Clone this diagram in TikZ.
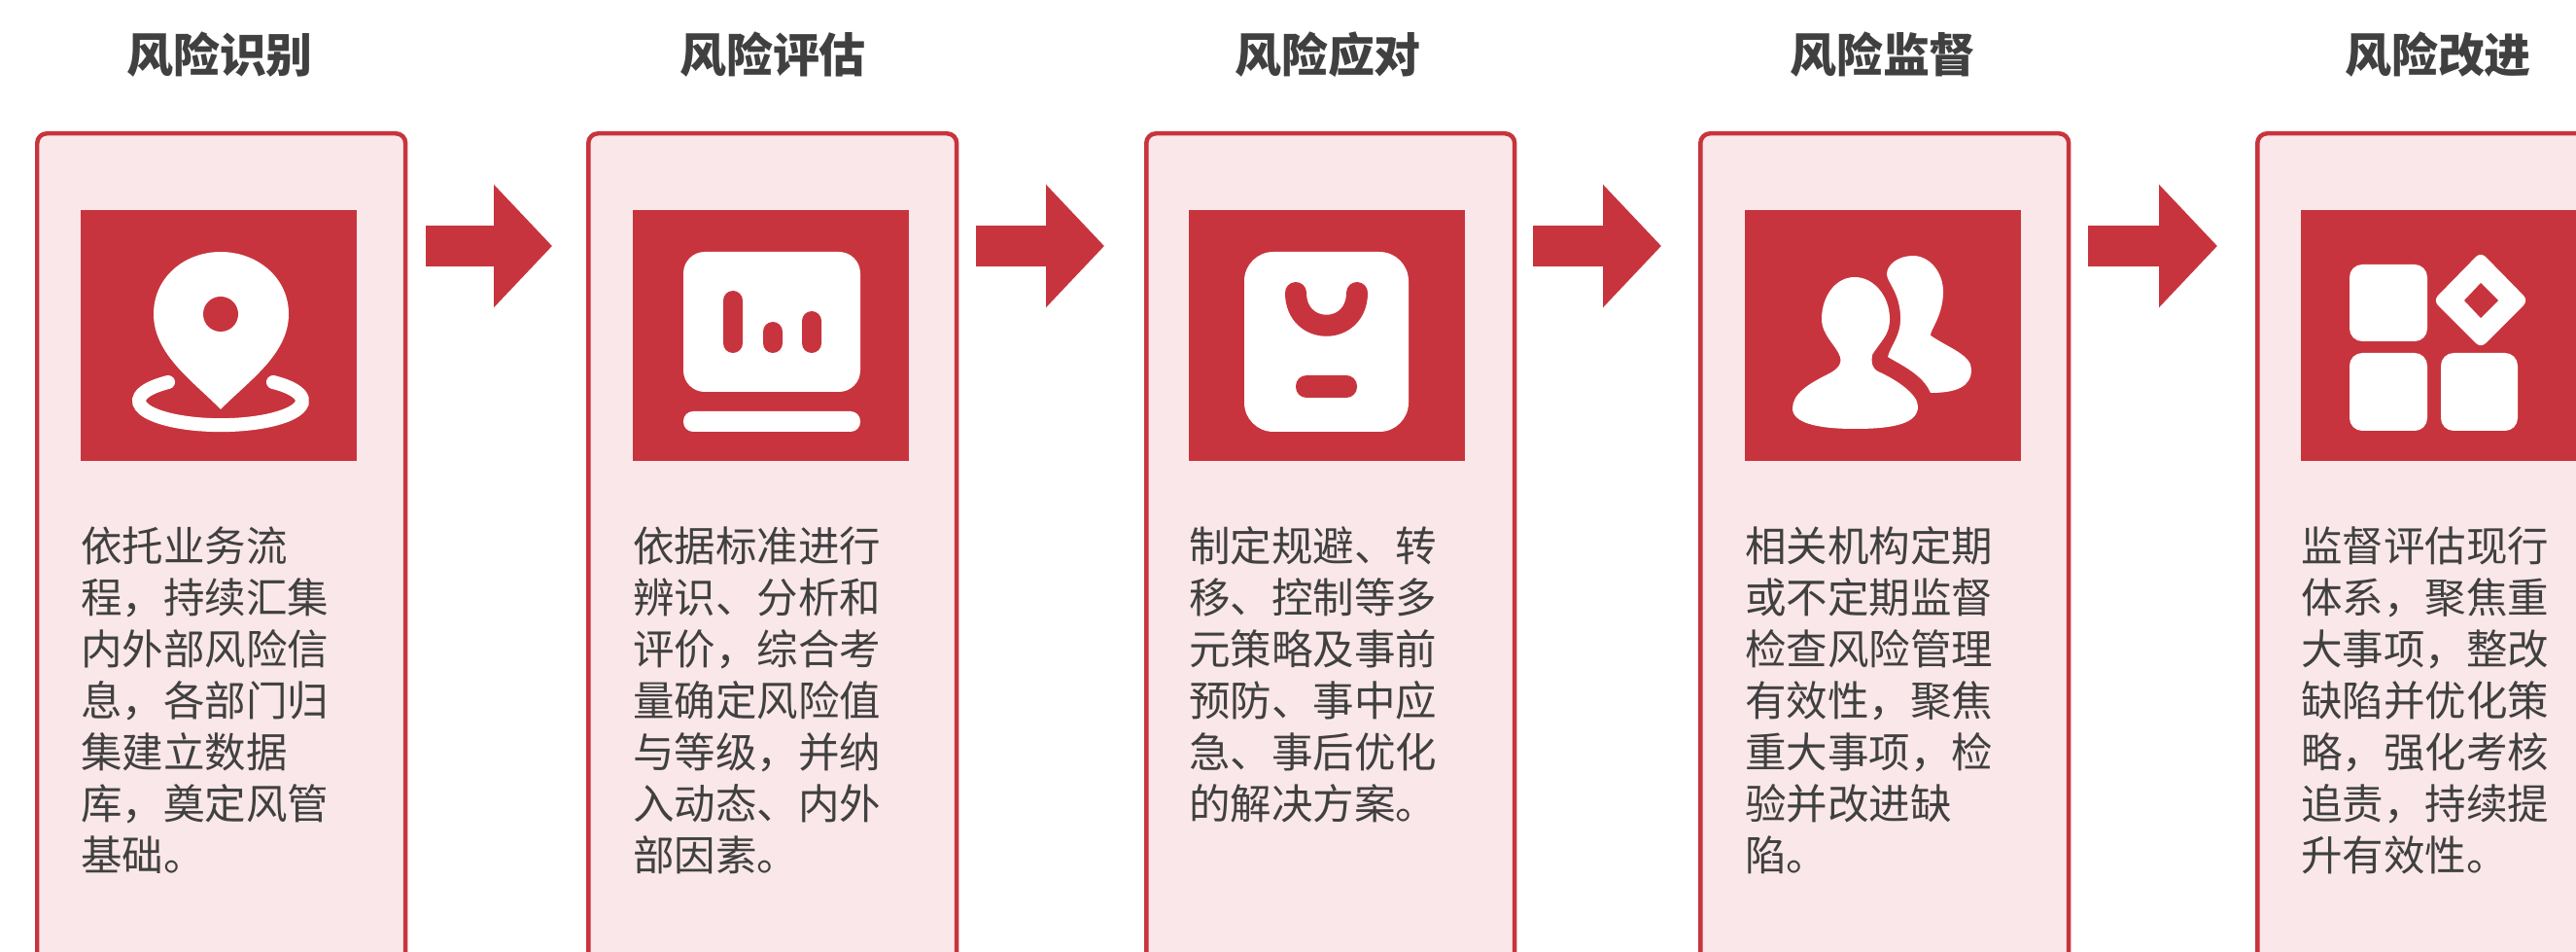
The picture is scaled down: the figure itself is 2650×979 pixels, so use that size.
\documentclass[tikz,border=0pt]{standalone}
\usepackage{fontspec}
\setmainfont{Noto Sans CJK SC}
\usetikzlibrary{arrows.meta}
\definecolor{riskred}{HTML}{C8343D}
\definecolor{cardpink}{HTML}{FAE7E9}
\definecolor{inktext}{HTML}{404040}
\tikzset{
  card/.style={rectangle,draw=riskred,fill=cardpink,line width=0.09cm,rounded corners=0.2cm,
    anchor=north west,minimum width=7.58cm,minimum height=18cm,inner sep=0},
  iconbox/.style={rectangle,fill=riskred,anchor=north west,minimum width=5.68cm,minimum height=5.16cm,inner sep=0},
  headline/.style={font=\fontsize{27.3pt}{30pt}\selectfont\bfseries,text=inktext,inner sep=0},
  bodytext/.style={font=\fontsize{24.2pt}{30.16pt}\selectfont,text=inktext,align=left,anchor=north west,inner sep=0},
  flowarrow/.style={riskred,line width=0.84cm,-{Triangle[length=1.2cm,width=2.46cm]}},
  iconwhite/.style={fill=white,draw=none},
  iconcut/.style={fill=riskred,draw=none},
}

\begin{document}
\begin{tikzpicture}[x=0.02cm,y=-0.02cm]
  \useasboundingbox (0,0) rectangle (2650,979);
  \clip (0,0) rectangle (2650,979);

  % titles
  \node[headline] (title1) at (226,56) {风险识别};
  \node[headline] (title2) at (795,56) {风险评估};
  \node[headline] (title3) at (1366,56) {风险应对};
  \node[headline] (title4) at (1937,56) {风险监督};
  \node[headline] (title5) at (2508,56) {风险改进};

  % cards
  \node[card] (card1) at (36,135) {};
  \node[card] (card2) at (603,135) {};
  \node[card] (card3) at (1177,135) {};
  \node[card] (card4) at (1747,135) {};
  \node[card] (card5) at (2320,135) {};

  % arrows
  \draw[flowarrow] ([shift={(19,118)}]card1.north east) -- ([shift={(-35,118)}]card2.north west);
  \draw[flowarrow] ([shift={(18,118)}]card2.north east) -- ([shift={(-41,118)}]card3.north west);
  \draw[flowarrow] ([shift={(17,118)}]card3.north east) -- ([shift={(-38,118)}]card4.north west);
  \draw[flowarrow] ([shift={(18,118)}]card4.north east) -- ([shift={(-39,118)}]card5.north west);

  % icon squares
  \node[iconbox] (icon1) at (83,216) {};
  \node[iconbox] (icon2) at (651,216) {};
  \node[iconbox] (icon3) at (1223,216) {};
  \node[iconbox] (icon4) at (1795,216) {};
  \node[iconbox] (icon5) at (2367,216) {};

  % pin
  \draw[white,line width=0.28cm,line cap=round] (281,393) arc[start angle=-50,end angle=230,x radius=84,y radius=25];
  \path[iconwhite] (227,421) .. controls (200,393) and (158,365) .. (158,323)
    .. controls (158,285) and (190,259) .. (227,259)
    .. controls (264,259) and (297,285) .. (297,323)
    .. controls (297,365) and (254,393) .. (227,421) -- cycle;
  \path[iconcut] (227,323) circle[radius=18];

  % screen
  \path[iconwhite,rounded corners=0.44cm] (703,259) rectangle (885,403);
  \path[iconwhite,rounded corners=0.2cm] (703,423) rectangle (885,444);
  \path[iconcut,rounded corners=0.2cm] (744,299) rectangle (764,363);
  \path[iconcut,rounded corners=0.2cm] (785,331) rectangle (805,363);
  \path[iconcut,rounded corners=0.2cm] (825,320) rectangle (845,363);

  % bag
  \path[iconwhite,rounded corners=0.6cm] (1280,259) rectangle (1449,444);
  \draw[riskred,line width=0.44cm,line cap=round] (1333,301) .. controls (1333,346) and (1396,346) .. (1396,301);
  \path[iconcut,rounded corners=0.22cm] (1333,386) rectangle (1396,409);

  % people
  \path[iconwhite] (1968,263) .. controls (1953,263) and (1941,272) .. (1941,282)
    .. controls (1941,290) and (1954,300) .. (1955,325)
    .. controls (1956,345) and (1945,355) .. (1942,367)
    .. controls (1955,375) and (1978,385) .. (1986,404)
    .. controls (2012,404) and (2028,398) .. (2028,380)
    .. controls (2028,365) and (2005,358) .. (1986,345)
    .. controls (1985,340) and (1999,325) .. (1999,300)
    .. controls (1999,280) and (1985,263) .. (1968,263) -- cycle;
  \path[iconwhite] (1908,285) .. controls (1888,285) and (1874,305) .. (1874,328)
    .. controls (1874,345) and (1889,355) .. (1893,367)
    .. controls (1895,375) and (1890,380) .. (1880,385)
    .. controls (1860,395) and (1844,405) .. (1844,420)
    .. controls (1844,435) and (1870,441) .. (1908,441)
    .. controls (1950,441) and (1973,435) .. (1973,418)
    .. controls (1973,405) and (1950,390) .. (1932,382)
    .. controls (1925,378) and (1925,372) .. (1926,365)
    .. controls (1935,350) and (1944,345) .. (1944,328)
    .. controls (1944,305) and (1928,285) .. (1908,285) -- cycle;

  % blocks
  \path[iconwhite,rounded corners=0.26cm] (2417,272) rectangle (2497,351);
  \path[iconwhite,rounded corners=0.26cm] (2417,363) rectangle (2497,443);
  \path[iconwhite,rounded corners=0.26cm] (2511,363) rectangle (2590,443);
  \path[iconwhite,rounded corners=0.14cm] (2552,259) -- (2601,309) -- (2552,358) -- (2503,309) -- cycle;
  \path[iconcut] (2552,291) -- (2570,309) -- (2552,327) -- (2535,309) -- cycle;

  % texts
  \node[bodytext] (text1) at (83,541) {依托业务流\\程，持续汇集\\内外部风险信\\息，各部门归\\集建立数据\\库，奠定风管\\基础。};
  \node[bodytext] (text2) at (651,541) {依据标准进行\\辨识、分析和\\评价，综合考\\量确定风险值\\与等级，并纳\\入动态、内外\\部因素。};
  \node[bodytext] (text3) at (1223,541) {制定规避、转\\移、控制等多\\元策略及事前\\预防、事中应\\急、事后优化\\的解决方案。};
  \node[bodytext] (text4) at (1795,541) {相关机构定期\\或不定期监督\\检查风险管理\\有效性，聚焦\\重大事项，检\\验并改进缺\\陷。};
  \node[bodytext] (text5) at (2367,541) {监督评估现行\\体系，聚焦重\\大事项，整改\\缺陷并优化策\\略，强化考核\\追责，持续提\\升有效性。};
\end{tikzpicture}
\end{document}
